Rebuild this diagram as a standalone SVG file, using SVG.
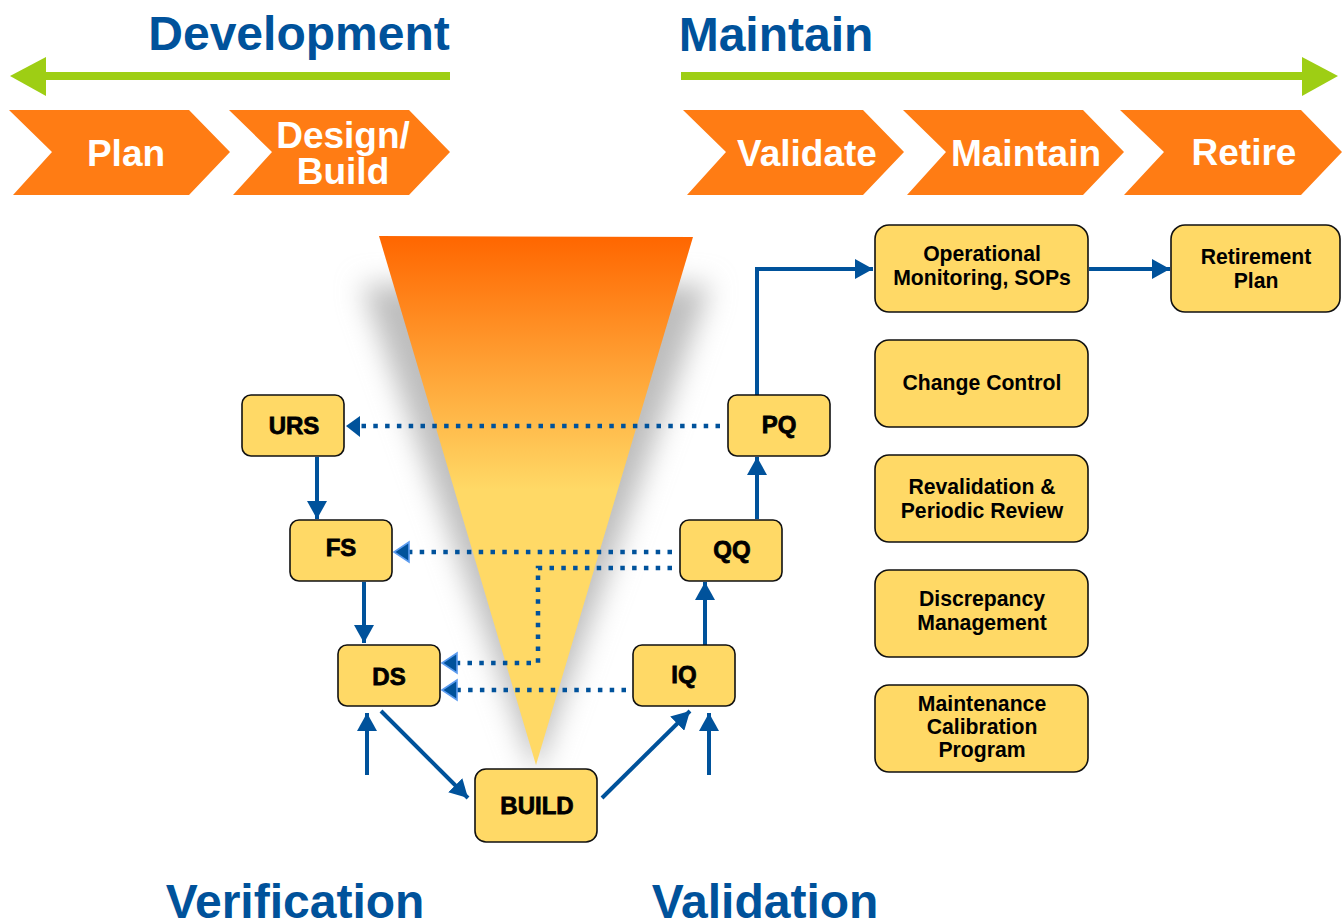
<svg xmlns="http://www.w3.org/2000/svg" width="1344" height="919" viewBox="0 0 1344 919">
<style>
text{font-family:"Liberation Sans",Arial,sans-serif;font-weight:bold;text-anchor:middle}
.h{font-size:48px;fill:#00529B}
.c{font-size:37px;fill:#fff}
.n{fill:#FFD966;stroke:#111;stroke-width:1.6}
.t{font-size:24px;fill:#000;stroke:#000;stroke-width:.8}
.s{font-size:21.2px;fill:#000}
.chev{fill:#FF7C14}
.g{stroke:#9ECE14;stroke-width:8;fill:none}
.gh{fill:#9ECE14}
.l{stroke:#00529B;stroke-width:4;fill:none}
.d{stroke:#00529B;stroke-width:4.5;fill:none;stroke-dasharray:4.5 7.3}
.head{fill:#00529B}
.glow{fill:#00529B;stroke:#5B9BEF;stroke-width:1.6}
</style>
<defs>
<linearGradient id="fun" gradientUnits="userSpaceOnUse" x1="0" y1="236" x2="0" y2="765">
<stop offset="0" stop-color="#FF6600"/><stop offset=".48" stop-color="#FFD966"/><stop offset="1" stop-color="#FFD966"/>
</linearGradient>
<filter id="blur" x="-30%" y="-10%" width="160%" height="120%"><feGaussianBlur stdDeviation="14"/></filter>
<marker id="a" viewBox="0 0 20 20" refX="18" refY="10" markerUnits="userSpaceOnUse" markerWidth="20" markerHeight="20" orient="auto"><path d="M0 0L18 10L0 20z" fill="#00529B"/></marker>
</defs>
<g id="headers">
<text class="h" x="299" y="50">Development</text>
<text class="h" x="776" y="51">Maintain</text>
<text class="h" x="295" y="918">Verification</text>
<text class="h" x="765" y="918">Validation</text>
</g>
<g id="phase-arrows">
<path class="g" d="M450 76H44"/><path class="gh" d="M10 76L46 57V96z"/>
<path class="g" d="M681 76H1304"/><path class="gh" d="M1338 76L1302 57V96z"/>
</g>
<g id="plan"><path class="chev" d="M9 110H189L230 152L189 195H13L52 152z"/><text class="c" x="126" y="166">Plan</text></g>
<g id="design-build"><path class="chev" d="M229 110H409L450 152L409 195H233L272 152z"/><text class="c" x="343" y="148">Design/</text><text class="c" x="343" y="184">Build</text></g>
<g id="validate"><path class="chev" d="M683 110H863L904 152L863 195H687L726 152z"/><text class="c" x="807" y="166">Validate</text></g>
<g id="maintain"><path class="chev" d="M903 110H1083L1124 152L1083 195H907L946 152z"/><text class="c" x="1026" y="166">Maintain</text></g>
<g id="retire"><path class="chev" d="M1120 110H1301L1342 152L1301 195H1124L1164 152z"/><text class="c" x="1244" y="165">Retire</text></g>
<g id="funnel">
<path d="M362 285H710L536 775z" fill="#bdbdbd" filter="url(#blur)"/>
<path d="M379 236L693 237L536 765z" fill="url(#fun)"/>
</g>
<g id="connectors">
<path class="d" d="M720 426H360"/><path class="head" d="M360 416V437L346 426z"/>
<path class="d" d="M672 552H408"/><path class="glow" d="M409 542V562L394 552z"/>
<path class="d" d="M672 568H538V663H456"/><path class="glow" d="M457 653V673L442 663z"/>
<path class="d" d="M626 690H456"/><path class="glow" d="M457 680V700L442 690z"/>
<path class="l" marker-end="url(#a)" d="M317 457V519"/>
<path class="l" marker-end="url(#a)" d="M364 582V643"/>
<path class="l" marker-end="url(#a)" d="M367 775V713"/>
<path class="l" marker-end="url(#a)" d="M381 711L468 798"/>
<path class="l" marker-end="url(#a)" d="M602 798L690 711"/>
<path class="l" marker-end="url(#a)" d="M709 775V713"/>
<path class="l" marker-end="url(#a)" d="M705 645V582"/>
<path class="l" marker-end="url(#a)" d="M757 519V457"/>
<path class="l" marker-end="url(#a)" d="M757 395V269H873"/>
<path class="l" marker-end="url(#a)" d="M1089 269H1170"/>
</g>
<g id="urs"><rect class="n" x="242" y="395" width="102" height="61" rx="9"/><text class="t" x="294" y="434">URS</text></g>
<g id="fs"><rect class="n" x="290" y="520" width="102" height="61" rx="9"/><text class="t" x="341" y="556">FS</text></g>
<g id="ds"><rect class="n" x="338" y="645" width="102" height="61" rx="9"/><text class="t" x="389" y="685">DS</text></g>
<g id="build"><rect class="n" x="475" y="769" width="122" height="73" rx="11"/><text class="t" x="537" y="814">BUILD</text></g>
<g id="iq"><rect class="n" x="633" y="645" width="102" height="61" rx="9"/><text class="t" x="684" y="683">IQ</text></g>
<g id="qq"><rect class="n" x="680" y="520" width="102" height="61" rx="9"/><text class="t" x="732" y="558">QQ</text></g>
<g id="pq"><rect class="n" x="728" y="395" width="102" height="61" rx="9"/><text class="t" x="779" y="433">PQ</text></g>
<g id="operational"><rect class="n" x="875" y="225" width="213" height="87" rx="14"/><text class="s" x="982" y="261">Operational</text><text class="s" x="982" y="285">Monitoring, SOPs</text></g>
<g id="retirement"><rect class="n" x="1171" y="225" width="169" height="87" rx="14"/><text class="s" x="1256" y="264">Retirement</text><text class="s" x="1256" y="288">Plan</text></g>
<g id="change"><rect class="n" x="875" y="340" width="213" height="87" rx="14"/><text class="s" x="982" y="390">Change Control</text></g>
<g id="revalidation"><rect class="n" x="875" y="455" width="213" height="87" rx="14"/><text class="s" x="982" y="494">Revalidation &amp;</text><text class="s" x="982" y="518">Periodic Review</text></g>
<g id="discrepancy"><rect class="n" x="875" y="570" width="213" height="87" rx="14"/><text class="s" x="982" y="606">Discrepancy</text><text class="s" x="982" y="630">Management</text></g>
<g id="calibration"><rect class="n" x="875" y="685" width="213" height="87" rx="14"/><text class="s" x="982" y="711">Maintenance</text><text class="s" x="982" y="734">Calibration</text><text class="s" x="982" y="757">Program</text></g>
</svg>
